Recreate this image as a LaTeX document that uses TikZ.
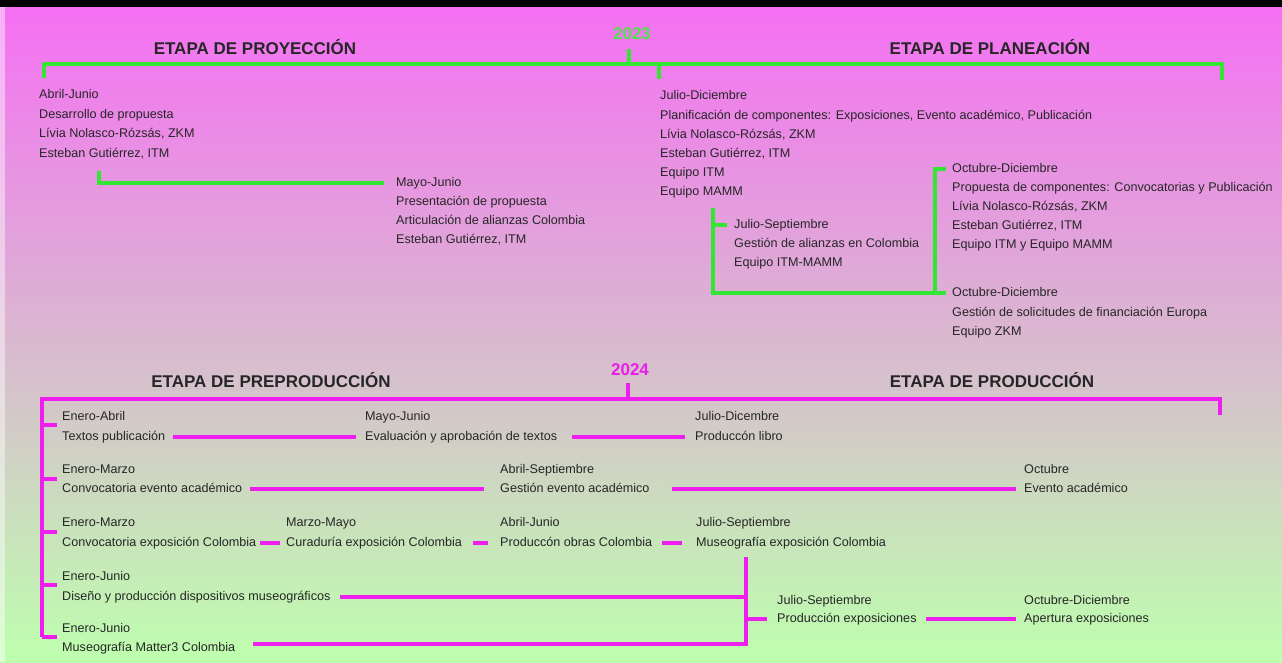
\documentclass[tikz,border=0pt]{standalone}
\usepackage{fontspec}
\setmainfont{Liberation Sans}
\definecolor{ink}{HTML}{262626}
\definecolor{gcol}{HTML}{33E633}
\definecolor{mcol}{HTML}{EE1EEE}
\definecolor{bgtop}{HTML}{F66EF4}
\definecolor{bgmid}{HTML}{DDB8D6}
\definecolor{bgbot}{HTML}{BEFFAE}
\definecolor{yrA}{HTML}{4FE04F}
\definecolor{yrB}{HTML}{E81EE8}
\begin{document}
\begin{tikzpicture}[x=1pt,y=-1pt,
  txt/.style={anchor=west,inner sep=0pt,text=ink,font=\fontsize{12.6}{15}\selectfont,text height=9.5pt,text depth=2.5pt},
  ttl/.style={inner sep=0pt,text=ink,font=\bfseries\fontsize{17}{20}\selectfont},
  yr/.style={inner sep=0pt,font=\bfseries\fontsize{17}{20}\selectfont},
  gl/.style={draw=gcol,line width=3.2pt},
  ml/.style={draw=mcol,line width=3.2pt},
]
\useasboundingbox (0,0) rectangle (1282,662);
\shade[top color=bgtop, middle color=bgmid, bottom color=bgbot] (0,0) rectangle (1282,662);
\fill[white,opacity=0.45] (0,0) rectangle (5,662);
\fill[black] (0,0) rectangle (1282,7);

% ---------------- 2023 ----------------
\node[ttl] (tproy) at (255,47) {ETAPA DE PROYECCIÓN};
\node[ttl] (tplan) at (990,47) {ETAPA DE PLANEACIÓN};
\node[yr,text=yrA] (y23) at (632,34) {2023};

\coordinate (gL) at (44,64);
\coordinate (gLb) at (44,78);
\coordinate (gR) at (1222,64);
\coordinate (gRb) at (1222,80);
\coordinate (g23) at (629,64);
\coordinate (g58) at (659,64);
\coordinate (g58b) at (659,79);
\draw[gl] (gLb) -- (gL) -- (gR) -- (gRb);
\draw[gl,shorten <=9pt] (y23.south -| g23) -- (g23);
\draw[gl] (g58) -- (g58b);

\node[txt] (a1) at (39,95) {Abril-Junio};
\node[txt] (a2) at (39,115) {Desarrollo de propuesta};
\node[txt] (a3) at (39,134) {Lívia Nolasco-Rózsás, ZKM};
\node[txt] (a4) at (39,154) {Esteban Gutiérrez, ITM};

\node[txt] (b1) at (396,183) {Mayo-Junio};
\node[txt] (b2) at (396,202) {Presentación de propuesta};
\node[txt] (b3) at (396,221) {Articulación de alianzas Colombia};
\node[txt] (b4) at (396,240) {Esteban Gutiérrez, ITM};

\coordinate (aL) at (99,171);
\draw[gl,shorten >=12pt] (aL) |- (b1.west);

\node[txt] (c1) at (660,96) {Julio-Diciembre};
\node[txt] (c2) at (660,116) {Planificación de componentes: Exposiciones, Evento académico, Publicación};
\node[txt] (c3) at (660,135) {Lívia Nolasco-Rózsás, ZKM};
\node[txt] (c4) at (660,154) {Esteban Gutiérrez, ITM};
\node[txt] (c5) at (660,173) {Equipo ITM};
\node[txt] (c6) at (660,192) {Equipo MAMM};

\node[txt] (d1) at (734,225) {Julio-Septiembre};
\node[txt] (d2) at (734,244) {Gestión de alianzas en Colombia};
\node[txt] (d3) at (734,263) {Equipo ITM-MAMM};

\node[txt] (e1) at (952,169) {Octubre-Diciembre};
\node[txt] (e2) at (952,188) {Propuesta de componentes: Convocatorias y Publicación};
\node[txt] (e3) at (952,207) {Lívia Nolasco-Rózsás, ZKM};
\node[txt] (e4) at (952,226) {Esteban Gutiérrez, ITM};
\node[txt] (e5) at (952,245) {Equipo ITM y Equipo MAMM};

\node[txt] (f1) at (952,293) {Octubre-Diciembre};
\node[txt] (f2) at (952,313) {Gestión de solicitudes de financiación Europa};
\node[txt] (f3) at (952,332) {Equipo ZKM};

\coordinate (cV) at (713,208);
\coordinate (eX) at (935,169);
\draw[gl,shorten >=6pt] (cV) |- (f1.west);
\draw[gl,shorten >=7pt] (cV |- d1.west) -- (d1.west);
\draw[gl,shorten >=6pt] (eX |- f1.west) |- (e1.west);

% ---------------- 2024 ----------------
\node[ttl] (tpre) at (271,380) {ETAPA DE PREPRODUCCIÓN};
\node[ttl] (tprod) at (992,380) {ETAPA DE PRODUCCIÓN};
\node[yr,text=yrB] (y24) at (630,370) {2024};

\coordinate (mL) at (42,399);
\coordinate (mB) at (42,637);
\coordinate (mR) at (1220,399);
\coordinate (mRb) at (1220,415);
\coordinate (m24) at (628,399);
\draw[ml] (mB) -- (mL) -- (mR) -- (mRb);
\draw[ml,shorten <=7pt] (y24.south -| m24) -- (m24);

\coordinate (k1) at (57,425);
\coordinate (k2) at (57,479);
\coordinate (k3) at (57,532);
\coordinate (k4) at (57,585);
\coordinate (k5) at (57,637);
\foreach \k in {k1,k2,k3,k4,k5} \draw[ml] (\k -| mL) -- (\k);

% row 1
\node[txt] (p1d) at (62,417) {Enero-Abril};
\node[txt] (p1) at (62,437) {Textos publicación};
\node[txt] (q1d) at (365,417) {Mayo-Junio};
\node[txt] (q1) at (365,437) {Evaluación y aprobación de textos};
\node[txt] (s1d) at (695,417) {Julio-Dicembre};
\node[txt] (s1) at (695,437) {Produccón libro};
\draw[ml,shorten <=8pt,shorten >=9pt] (p1.east) -- (q1.west);
\draw[ml,shorten <=15pt,shorten >=10pt] (q1.east) -- (s1.west);

% row 2
\node[txt] (p2d) at (62,470) {Enero-Marzo};
\node[txt] (p2) at (62,489) {Convocatoria evento académico};
\node[txt] (q2d) at (500,470) {Abril-Septiembre};
\node[txt] (q2) at (500,489) {Gestión evento académico};
\node[txt] (s2d) at (1024,470) {Octubre};
\node[txt] (s2) at (1024,489) {Evento académico};
\draw[ml,shorten <=8pt,shorten >=16pt] (p2.east) -- (q2.west);
\draw[ml,shorten <=22pt,shorten >=8pt] (q2.east) -- (s2.west);

% row 3
\node[txt] (p3d) at (62,523) {Enero-Marzo};
\node[txt] (p3) at (62,543) {Convocatoria exposición Colombia};
\node[txt] (q3d) at (286,523) {Marzo-Mayo};
\node[txt] (q3) at (286,543) {Curaduría exposición Colombia};
\node[txt] (r3d) at (500,523) {Abril-Junio};
\node[txt] (r3) at (500,543) {Produccón obras Colombia};
\node[txt] (t3d) at (696,523) {Julio-Septiembre};
\node[txt] (t3) at (696,543) {Museografía exposición Colombia};
\draw[ml,shorten <=4pt,shorten >=6pt] (p3.east) -- (q3.west);
\draw[ml,shorten <=11pt,shorten >=12pt] (q3.east) -- (r3.west);
\draw[ml,shorten <=10pt,shorten >=14pt] (r3.east) -- (t3.west);

% rows 4 and 5
\node[txt] (p4d) at (62,577) {Enero-Junio};
\node[txt] (p4) at (62,597) {Diseño y producción dispositivos museográficos};
\node[txt] (p5d) at (62,629) {Enero-Junio};
\node[txt] (p5) at (62,648) {Museografía Matter3 Colombia};

\coordinate (vT) at (746,557);
\draw[ml,shorten <=9pt] (p4.east) -- (p4.east -| vT);
\draw[ml,shorten <=18pt] ([yshift=4pt]p5.east) -| (vT);

\node[txt] (u1d) at (777,601) {Julio-Septiembre};
\node[txt] (u1) at (777,619) {Producción exposiciones};
\node[txt] (w1d) at (1024,601) {Octubre-Diciembre};
\node[txt] (w1) at (1024,619) {Apertura exposiciones};
\draw[ml,shorten >=10pt] (vT |- u1.west) -- (u1.west);
\draw[ml,shorten <=9pt,shorten >=8pt] (u1.east) -- (w1.west);
\end{tikzpicture}
\end{document}
